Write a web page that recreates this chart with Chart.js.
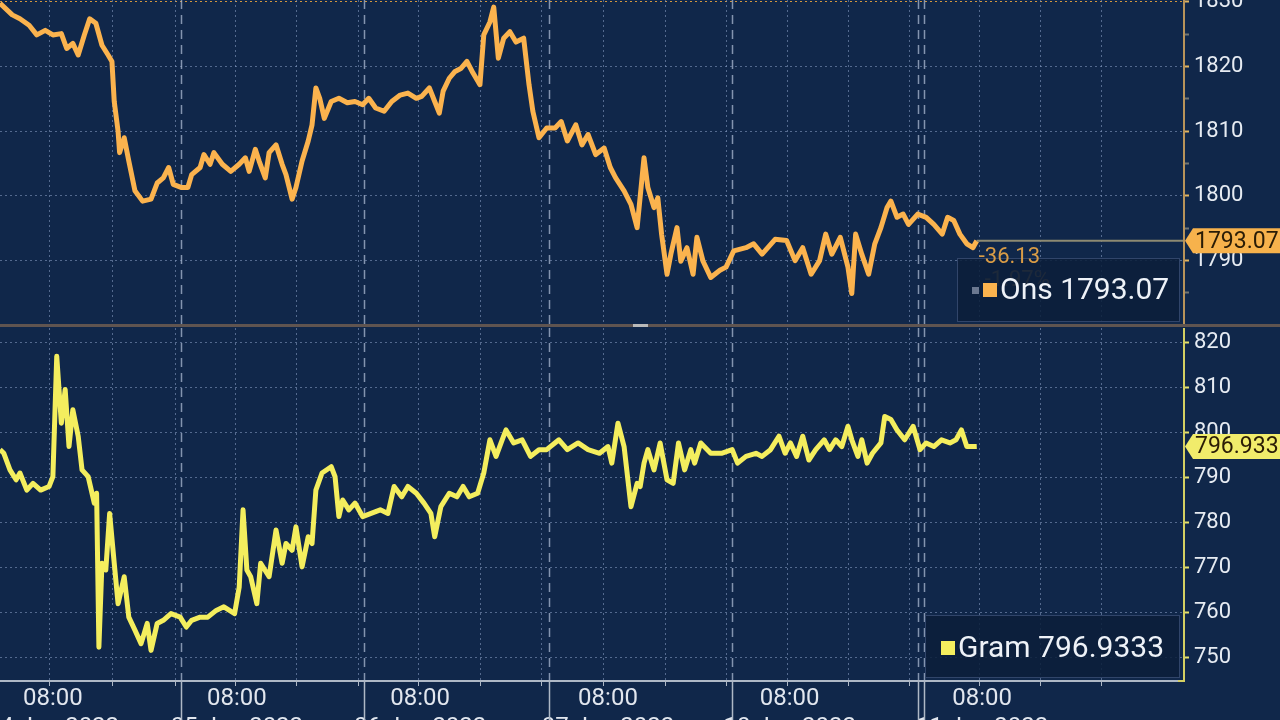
<!DOCTYPE html>
<html>
<head>
<meta charset="utf-8">
<script src="https://cdn.jsdelivr.net/npm/chart.js@4.4.1/dist/chart.umd.min.js"></script>
<style>
    html, body { margin: 0; padding: 0; width: 1280px; height: 720px; overflow: hidden; background: #10274a; }
    #onsChart { position: absolute; left: 0; top: 0; }
    #gramChart { position: absolute; left: 0; top: 327px; }
    #divider { position: absolute; left: 0; top: 324px; width: 1280px; height: 3px; background: #5f5450; }
    #handle { position: absolute; left: 633px; top: 324px; width: 15px; height: 3px; background: #b9b9b9; }
</style>
</head>
<body>
<canvas id="onsChart" width="1280" height="324"></canvas>
<div id="divider"></div>
<div id="handle"></div>
<canvas id="gramChart" width="1280" height="420"></canvas>
<script>
// Time axis (hours from the left edge of the chart)
const gridHours = [6.4, 14.6, 22.8, 30.7, 38.6, 46.7, 54.5, 62.6, 70.6, 78.7, 86.7, 94.7, 102.6, 110.6, 118.6, 127.7, 135.6, 143.6];
const dayBreakHours = [23.6, 47.5, 71.6, 95.5, 119.7, 120.5];
const labelHours = [6.9, 30.9, 54.8, 79.3, 103.0, 128.1];
const timeLabels = ['08:00', '08:00', '08:00', '08:00', '08:00', '08:00'];
const dayLabels = ['04 Jan 2022', '05 Jan 2022', '06 Jan 2022', '07 Jan 2022', '10 Jan 2022', '11 Jan 2022'];

// Ons (troy ounce) series
const onsHours = [0, 1.6, 2.6, 3.8, 4.8, 5.9, 6.9, 8.0, 8.7, 9.5,
    10.2, 11.0, 11.7, 12.5, 13.3, 14.1, 14.6, 14.9, 15.4, 15.6,
    16.2, 16.8, 17.6, 18.6, 19.7, 20.5, 21.3, 22.0, 22.6, 23.7,
    24.5, 25.0, 26.1, 26.6, 27.4, 27.9, 29.0, 30.1, 31.2, 32.0,
    32.5, 33.3, 33.8, 34.6, 35.1, 36.0, 36.8, 37.3, 38.1, 38.6,
    39.4, 40.2, 40.7, 41.2, 41.7, 42.3, 43.2, 44.2, 45.3, 46.3,
    47.3, 48.1, 49.0, 50.1, 51.1, 52.2, 53.2, 54.3, 55.0, 56.0,
    56.7, 57.3, 57.8, 58.6, 59.3, 60.1, 60.9, 61.7, 62.6, 63.1,
    63.9, 64.4, 65.0, 65.7, 66.5, 67.3, 68.3, 69.0, 69.5, 70.3,
    71.3, 72.4, 73.2, 74.0, 75.1, 75.9, 76.7, 77.7, 78.8, 79.6,
    80.3, 81.4, 82.3, 83.1, 84.0, 84.5, 85.3, 85.8, 86.3, 87.0,
    87.5, 88.3, 88.8, 89.6, 90.4, 90.9, 91.7, 92.7, 93.9, 94.7,
    95.7, 97.3, 98.3, 99.4, 101.1, 102.6, 103.7, 104.7, 105.8, 106.9,
    107.7, 108.5, 109.6, 110.6, 111.1, 111.6, 112.4, 113.3, 114.1, 114.9,
    115.7, 116.2, 117.0, 117.8, 118.5, 119.7, 120.8, 121.8, 122.9, 123.6,
    124.4, 125.2, 126.1, 126.9, 127.4];
const onsValues = [1829.8, 1828, 1827.4, 1826.4, 1824.9, 1825.6, 1824.9, 1825.1, 1822.8, 1823.6,
    1821.8, 1824.9, 1827.4, 1826.7, 1823.3, 1821.8, 1820.8, 1814.6, 1810, 1806.7,
    1809, 1805.4, 1800.8, 1799.2, 1799.5, 1802, 1802.8, 1804.4, 1801.8, 1801.3,
    1801.3, 1803.3, 1804.4, 1806.4, 1804.9, 1806.7, 1804.9, 1803.8, 1804.9, 1805.9,
    1803.8, 1807.2, 1805.4, 1802.8, 1806.7, 1807.9, 1804.9, 1803.3, 1799.5, 1801.3,
    1805.4, 1808.5, 1811, 1816.7, 1815.1, 1812, 1814.6, 1815.1, 1814.4, 1814.6,
    1814.1, 1815.1, 1813.6, 1813.1, 1814.6, 1815.6, 1815.9, 1815.1, 1815.4, 1816.7,
    1814.6, 1812.8, 1816.2, 1818.2, 1819.2, 1819.7, 1820.8, 1819, 1817.2, 1824.9,
    1826.9, 1829.2, 1821.3, 1824.4, 1825.4, 1823.8, 1824.4, 1817.2, 1813.1, 1809,
    1810.5, 1810.5, 1811.5, 1808.5, 1811, 1807.9, 1809.5, 1806.4, 1807.4, 1804.4,
    1802.8, 1800.8, 1798.7, 1795.1, 1805.9, 1801.3, 1798.2, 1799.7, 1794, 1787.9,
    1791, 1795.1, 1789.9, 1792, 1787.9, 1793.6, 1789.9, 1787.4, 1788.5, 1789,
    1791.5, 1792, 1792.6, 1791, 1793.3, 1793.1, 1790, 1792, 1787.9, 1790,
    1794.1, 1791, 1793.6, 1789, 1784.9, 1794.1, 1791, 1787.9, 1792.6, 1795.1,
    1798.2, 1799.2, 1796.7, 1797.2, 1795.6, 1797.2, 1796.7, 1795.6, 1794.1, 1796.7,
    1796.2, 1794.1, 1792.6, 1792, 1793.07];

// Gram series
const gramHours = [0.0, 0.5, 1.3, 2.1, 2.6, 3.5, 4.3, 5.3, 6.4, 6.9,
    7.4, 8.0, 8.5, 9.0, 9.5, 10.2, 10.7, 11.5, 12.3, 12.6,
    12.9, 13.3, 13.8, 14.3, 14.9, 15.4, 16.2, 16.8, 17.6, 18.4,
    19.2, 19.7, 20.5, 21.3, 22.3, 23.5, 24.3, 25.0, 26.1, 27.1,
    28.2, 29.2, 30.6, 31.2, 31.7, 32.2, 32.7, 33.5, 34.0, 35.1,
    36.0, 36.8, 37.3, 38.1, 38.6, 39.4, 40.2, 40.7, 41.2, 42.0,
    43.2, 43.7, 44.2, 44.7, 45.5, 46.3, 47.3, 48.4, 49.6, 50.6,
    51.4, 52.4, 53.2, 54.3, 55.3, 56.2, 56.7, 57.5, 58.6, 59.6,
    60.4, 61.2, 62.3, 63.1, 63.9, 64.7, 65.5, 66.0, 67.0, 68.1,
    69.2, 70.3, 71.3, 72.9, 74.0, 75.4, 76.7, 78.2, 79.3, 79.8,
    80.6, 81.4, 82.3, 83.1, 83.5, 84.0, 84.5, 85.3, 86.1, 87.0,
    87.8, 88.5, 89.3, 90.1, 90.6, 91.4, 92.7, 94.1, 95.5, 96.2,
    97.3, 98.6, 99.4, 100.5, 101.6, 102.4, 103.1, 103.9, 104.7, 105.5,
    106.4, 107.5, 108.2, 109.0, 109.8, 110.6, 111.1, 111.9, 112.4, 113.1,
    113.8, 114.9, 115.4, 116.2, 117.0, 118.0, 119.1, 120.0, 120.8, 121.8,
    122.8, 123.9, 124.7, 125.4, 126.1, 126.9, 127.4];
const gramValues = [796.2, 795.4, 791.7, 789.5, 791, 787.2, 788.7, 787.2, 788, 790.2,
    817, 802.1, 809.6, 796.9, 805.1, 799.2, 791.7, 790.2, 784.3, 786.5,
    752.2, 770.9, 769.4, 782, 770.9, 761.9, 767.9, 758.9, 756, 753,
    757.5, 751.5, 757.5, 758.2, 759.7, 758.9, 756.7, 758.2, 758.9, 758.9,
    760.4, 761.2, 759.7, 765.6, 782.8, 769.4, 767.9, 761.9, 770.9, 767.9,
    778.3, 770.9, 775.3, 773.8, 779, 770.1, 776.8, 775.3, 787.2, 791,
    792.4, 790.2, 781.3, 785, 782.8, 784.3, 781.3, 782, 782.8, 782,
    788, 785.7, 788, 786.5, 784.3, 782, 776.8, 783.5, 786.5, 785.7,
    788, 785.7, 786.5, 791, 798.4, 794.7, 798.4, 800.6, 797.7, 798.4,
    794.7, 796.2, 796.2, 798.4, 796.2, 797.7, 796.2, 795.4, 796.9, 793.2,
    802.1, 796.9, 783.5, 788.7, 788, 793.2, 796.2, 791.7, 797.7, 789.5,
    788.7, 797.7, 791.7, 796.2, 793.2, 797.7, 795.4, 795.4, 796.2, 793.2,
    794.7, 795.4, 794.7, 796.2, 799.2, 795.4, 797.7, 794.7, 799.2, 793.9,
    796.2, 798.4, 796.2, 798.4, 796.9, 801.4, 798.4, 794.7, 798.4, 793.2,
    795.4, 797.7, 803.6, 802.9, 800.6, 798.4, 801.4, 796.2, 797.7, 796.9,
    798.4, 797.7, 798.4, 800.6, 796.9, 796.9, 796.93];

// Axis ticks
const onsTicks = [1785, 1790, 1795, 1800, 1805, 1810, 1815, 1820, 1825, 1830];
const gramTicks = [750, 755, 760, 765, 770, 775, 780, 785, 790, 795, 800, 805, 810, 815, 820];

// Header numbers
const onsLast = '1793.07';
const onsChange = '-36.13';
const onsChangePct = '-1.97%';
const gramLast = '796.9333';
const gramTag = '796.933';

const FONT = 'Roboto, "Liberation Sans", sans-serif';
const X_MAX = 154.3;

function toPoints(xs, ys) {
    return xs.map((h, i) => ({ x: h, y: ys[i] }));
}

function line(ctx, x1, y1, x2, y2, color, width, dash) {
    ctx.save();
    ctx.strokeStyle = color;
    ctx.lineWidth = width;
    ctx.setLineDash(dash || []);
    ctx.beginPath();
    ctx.moveTo(x1, y1);
    ctx.lineTo(x2, y2);
    ctx.stroke();
    ctx.restore();
}

// no label overhang padding, the plot runs edge to edge
function noPadding(s) {
    s.paddingTop = 0;
    s.paddingBottom = 0;
    s.paddingLeft = 0;
    s.paddingRight = 0;
}

// vertical dotted grid and dashed day breaks, through the x scale
function drawTimeGrid(chart) {
    const { ctx, chartArea: a, scales: { x } } = chart;
    gridHours.forEach(h => {
        const px = Math.round(x.getPixelForValue(h)) + 0.5;
        line(ctx, px, a.top, px, a.bottom, 'rgba(130,152,190,0.6)', 1, [2, 3]);
    });
    dayBreakHours.forEach(h => {
        const px = Math.round(x.getPixelForValue(h)) + 0.5;
        line(ctx, px, a.top, px, a.bottom, 'rgba(170,186,210,0.75)', 1.5, [9, 6]);
    });
}

function drawTag(ctx, left, y, text, fill) {
    const h = 25, tip = 8;
    ctx.save();
    ctx.fillStyle = fill;
    ctx.beginPath();
    ctx.moveTo(left, y);
    ctx.lineTo(left + tip, y - h / 2);
    ctx.lineTo(left + 140, y - h / 2);
    ctx.lineTo(left + 140, y + h / 2);
    ctx.lineTo(left + tip, y + h / 2);
    ctx.closePath();
    ctx.fill();
    ctx.fillStyle = '#2a1c06';
    ctx.font = '23px ' + FONT;
    ctx.textBaseline = 'middle';
    ctx.fillText(text, left + tip + 2, y + 1);
    ctx.restore();
}

function drawLegendBox(ctx, x1, y1, x2, y2) {
    ctx.save();
    ctx.fillStyle = 'rgba(12,30,58,0.86)';
    ctx.fillRect(x1, y1, x2 - x1, y2 - y1);
    ctx.strokeStyle = '#31456a';
    ctx.lineWidth = 1;
    ctx.strokeRect(x1 + 0.5, y1 + 0.5, x2 - x1 - 1, y2 - y1 - 1);
    ctx.restore();
}

const onsDecor = {
    id: 'onsDecor',
    beforeDatasetsDraw(chart) {
        drawTimeGrid(chart);
    },
    afterDatasetsDraw(chart) {
        const { ctx, chartArea: a, scales: { x, y } } = chart;
        const n = onsHours.length - 1;
        const lx = x.getPixelForValue(onsHours[n]);
        const ly = y.getPixelForValue(onsValues[n]);
        line(ctx, lx, ly, a.right, ly, '#8d8a72', 2);

        ctx.save();
        ctx.font = '22px ' + FONT;
        ctx.fillStyle = '#8a6a3e';
        ctx.fillText(onsChangePct, lx + 8, ly + 45);
        ctx.restore();

        const bx2 = a.right - 3, by2 = a.bottom - 2;
        drawLegendBox(ctx, bx2 - 223, by2 - 64, bx2, by2);

        ctx.save();
        ctx.font = '22px ' + FONT;
        ctx.fillStyle = '#d99c46';
        ctx.fillText(onsChange, lx + 2, ly + 22);
        ctx.fillStyle = '#6b7890';
        ctx.fillRect(bx2 - 208, by2 - 35, 7, 7);
        ctx.fillStyle = '#fbb34e';
        ctx.fillRect(bx2 - 197, by2 - 39, 14, 14);
        ctx.fillStyle = '#eef2f8';
        ctx.font = '30px ' + FONT;
        ctx.textBaseline = 'middle';
        ctx.fillText('Ons ' + onsLast, bx2 - 180, by2 - 31);
        ctx.restore();
    },
    afterDraw(chart) {
        const { ctx, chartArea: a, scales: { y } } = chart;
        line(ctx, a.right + 1, 0, a.right + 1, chart.height, '#b8935a', 2);
        const n = onsValues.length - 1;
        drawTag(ctx, a.right + 2, y.getPixelForValue(onsValues[n]), onsLast, '#f7b24c');
    }
};

const gramDecor = {
    id: 'gramDecor',
    beforeDatasetsDraw(chart) {
        drawTimeGrid(chart);
    },
    afterDatasetsDraw(chart) {
        const { ctx, chartArea: a } = chart;
        const bx2 = a.right - 3, by2 = a.bottom - 2;
        drawLegendBox(ctx, bx2 - 255, by2 - 63, bx2, by2);
        ctx.save();
        ctx.fillStyle = '#f4ee5e';
        ctx.fillRect(bx2 - 239, by2 - 37, 14, 14);
        ctx.fillStyle = '#eef2f8';
        ctx.font = '30px ' + FONT;
        ctx.textBaseline = 'middle';
        ctx.fillText('Gram ' + gramLast, bx2 - 222, by2 - 29);
        ctx.restore();
    },
    afterDraw(chart) {
        const { ctx, chartArea: a, scales: { x, y } } = chart;
        // time axis line, ticks and day separators under the plot
        line(ctx, 0, a.bottom + 1, a.right, a.bottom + 1, '#aeb8c6', 2);
        gridHours.forEach(h => {
            const px = Math.round(x.getPixelForValue(h)) + 0.5;
            line(ctx, px, a.bottom + 1, px, a.bottom + 6, '#aeb8c6', 1);
        });
        dayBreakHours.forEach(h => {
            const px = Math.round(x.getPixelForValue(h)) + 0.5;
            line(ctx, px, a.bottom + 1, px, chart.height, '#aeb8c6', 1.5);
        });
        line(ctx, a.right + 1, a.top, a.right + 1, a.bottom + 2, '#d4cf62', 2);
        line(ctx, a.right - 5, a.bottom + 1, a.right + 1, a.bottom + 1, '#d4cf62', 2);
        const n = gramValues.length - 1;
        drawTag(ctx, a.right + 2, y.getPixelForValue(gramValues[n]), gramTag, '#f1ec6b');
    }
};

function yScale(min, max, tickList, topColor, tickColor) {
    return {
        position: 'right',
        min: min,
        max: max,
        afterBuildTicks: s => { s.ticks = tickList.map(v => ({ value: v })); },
        afterFit: s => { s.width = 97; noPadding(s); },
        ticks: {
            color: '#e6ebf2',
            font: { family: FONT, size: 22 },
            padding: 5,
            callback: v => (v % 10 === 0 ? String(v) : '')
        },
        grid: {
            color: ctx => {
                if (!ctx.tick || ctx.tick.value % 10 !== 0) return 'rgba(0,0,0,0)';
                if (topColor && ctx.tick.value === tickList[tickList.length - 1]) return topColor;
                return 'rgba(130,152,190,0.6)';
            },
            lineWidth: 1,
            tickLength: 6,
            tickWidth: 2,
            tickColor: ctx => (ctx.tick && ctx.tick.value % 10 === 0 ? tickColor : 'rgba(180,170,140,0.6)')
        },
        border: { display: false, dash: [2, 3] }
    };
}

Chart.defaults.font.family = FONT;

new Chart(document.getElementById('onsChart'), {
    type: 'line',
    data: {
        datasets: [{
            label: 'Ons',
            data: toPoints(onsHours, onsValues),
            borderColor: '#fbb34e',
            borderWidth: 5,
            pointRadius: 0,
            tension: 0,
            borderJoinStyle: 'round'
        }]
    },
    options: {
        responsive: false,
        animation: false,
        devicePixelRatio: 1,
        layout: { padding: 0, autoPadding: false },
        plugins: { legend: { display: false }, tooltip: { enabled: false } },
        scales: {
            x: { type: 'linear', min: 0, max: X_MAX, display: false, afterFit: noPadding },
            y: yScale(1780.2, 1830.3, onsTicks, '#d0963f', '#e0b35f')
        }
    },
    plugins: [onsDecor]
});

new Chart(document.getElementById('gramChart'), {
    type: 'line',
    data: {
        datasets: [{
            label: 'Gram',
            data: toPoints(gramHours, gramValues),
            borderColor: '#f4ee5e',
            borderWidth: 5,
            pointRadius: 0,
            tension: 0,
            borderJoinStyle: 'round'
        }]
    },
    options: {
        responsive: false,
        animation: false,
        devicePixelRatio: 1,
        layout: { padding: { top: 1 }, autoPadding: false },
        plugins: { legend: { display: false }, tooltip: { enabled: false } },
        scales: {
            x: {
                type: 'linear',
                min: 0,
                max: X_MAX,
                position: 'bottom',
                afterBuildTicks: s => { s.ticks = labelHours.map(v => ({ value: v })); },
                afterFit: s => { s.height = 67; noPadding(s); },
                grid: { display: false, drawTicks: false },
                border: { display: false },
                ticks: {
                    color: '#e1e6ee',
                    font: { family: FONT, size: 24 },
                    padding: 5,
                    maxRotation: 0,
                    autoSkip: false,
                    callback: (v, i) => [timeLabels[i], dayLabels[i]]
                }
            },
            y: yScale(744.9, 823.3, gramTicks, null, '#e4e06a')
        }
    },
    plugins: [gramDecor]
});
</script>
</body>
</html>
